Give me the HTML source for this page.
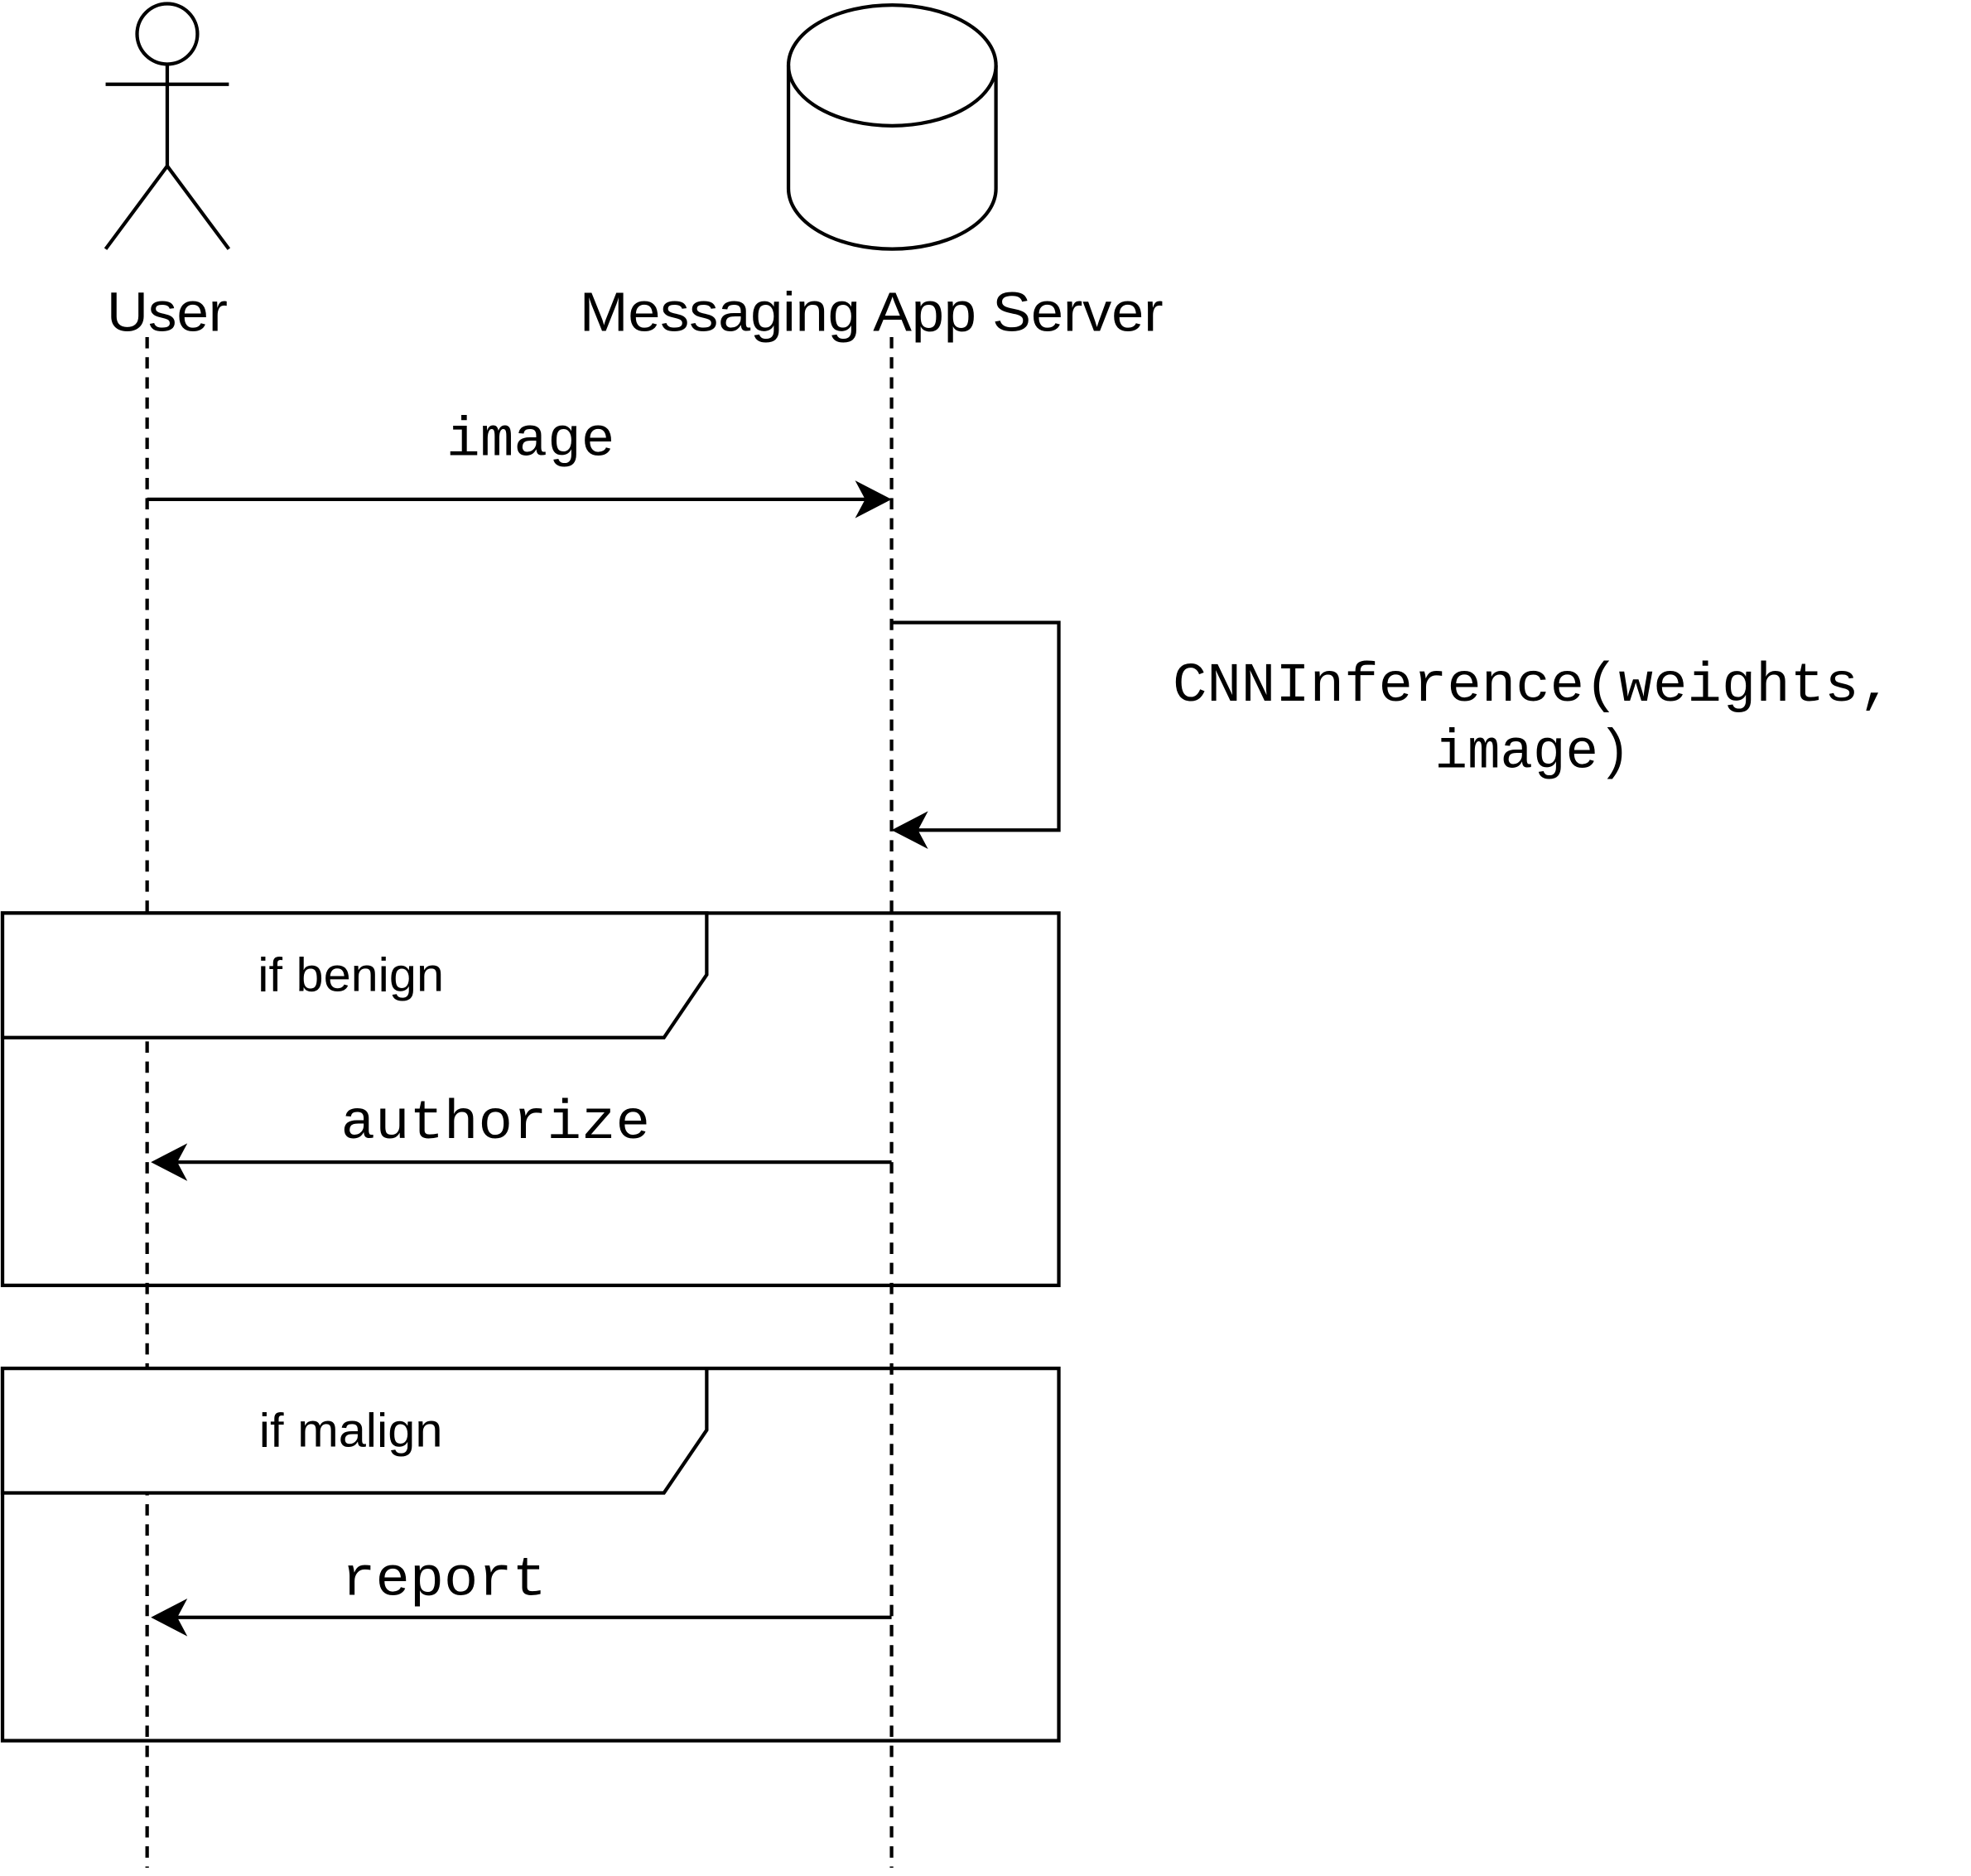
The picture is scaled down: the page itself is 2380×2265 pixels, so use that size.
<!DOCTYPE html>
<html><head><meta charset="utf-8"><style>html,body{margin:0;padding:0;background:#fff;}svg{display:block;}</style></head>
<body>
<svg width="2380" height="2265" viewBox="0 0 1567.4 1491.6" preserveAspectRatio="none" xmlns="http://www.w3.org/2000/svg">
<rect x="0" y="0" width="1570" height="1495" fill="#fff"/>
<g fill="none" stroke="#000" stroke-width="2.8">
<!-- actor -->
<ellipse cx="133" cy="27" rx="24" ry="24"/>
<line x1="84" y1="67" x2="182" y2="67"/>
<line x1="133" y1="51" x2="133" y2="132"/>
<polyline points="84,198 133,132 182,198"/>
<!-- cylinder -->
<path d="M627,52 L627,150 A82.5,48 0 0 0 792,150 L792,52"/>
<ellipse cx="709.5" cy="52" rx="82.5" ry="48"/>
<!-- lifelines -->
<line x1="117" y1="268" x2="117" y2="1485" stroke-dasharray="9,7"/>
<line x1="709" y1="268" x2="709" y2="1485" stroke-dasharray="9,7"/>
</g>
<g font-family="Liberation Sans, Arial, sans-serif" fill="#000">
<text x="133" y="263" font-size="44" text-anchor="middle" textLength="96" lengthAdjust="spacingAndGlyphs">User</text>
<text x="693" y="263" font-size="44" text-anchor="middle" textLength="464" lengthAdjust="spacingAndGlyphs">Messaging App Server</text>
</g>
<g stroke="#000" stroke-width="2.8" fill="none">
<line x1="117" y1="397" x2="695" y2="397"/>
<polyline points="709,495 842,495 842,660 722,660"/>
</g>
<path d="M709,397 L680,382 L688,397 L680,412 Z" fill="#000"/>
<path d="M709,660 L738,645 L730,660 L738,675 Z" fill="#000"/>
<g font-family="Liberation Mono, Courier New, monospace" fill="#000" font-size="44">
<text x="422" y="362" text-anchor="middle" textLength="134" lengthAdjust="spacingAndGlyphs">image</text>
<text x="1219" y="557" text-anchor="middle" textLength="573" lengthAdjust="spacingAndGlyphs">CNNInference(weights,</text>
<text x="1219" y="610" text-anchor="middle" textLength="156" lengthAdjust="spacingAndGlyphs">image)</text>
<text x="394" y="905" text-anchor="middle" textLength="246" lengthAdjust="spacingAndGlyphs">authorize</text>
<text x="353" y="1268" text-anchor="middle" textLength="163" lengthAdjust="spacingAndGlyphs">report</text>
</g>
<g stroke="#000" stroke-width="2.8">
<rect x="2" y="726" width="840" height="296" fill="none"/>
<path d="M2,726 L562,726 L562,775 L528,825 L2,825 Z" fill="#fff"/>
<rect x="2" y="1088" width="840" height="296" fill="none"/>
<path d="M2,1088 L562,1088 L562,1137 L528,1187 L2,1187 Z" fill="#fff"/>
<line x1="709" y1="924" x2="134" y2="924"/>
<line x1="709" y1="1286" x2="134" y2="1286"/>
</g>
<path d="M120,924 L149,909 L141,924 L149,939 Z" fill="#000"/>
<path d="M120,1286 L149,1271 L141,1286 L149,1301 Z" fill="#000"/>
<g font-family="Liberation Sans, Arial, sans-serif" fill="#000" font-size="38">
<text x="279" y="788" text-anchor="middle" textLength="148" lengthAdjust="spacingAndGlyphs">if benign</text>
<text x="279" y="1150" text-anchor="middle" textLength="146" lengthAdjust="spacingAndGlyphs">if malign</text>
</g>
</svg>
</body></html>
